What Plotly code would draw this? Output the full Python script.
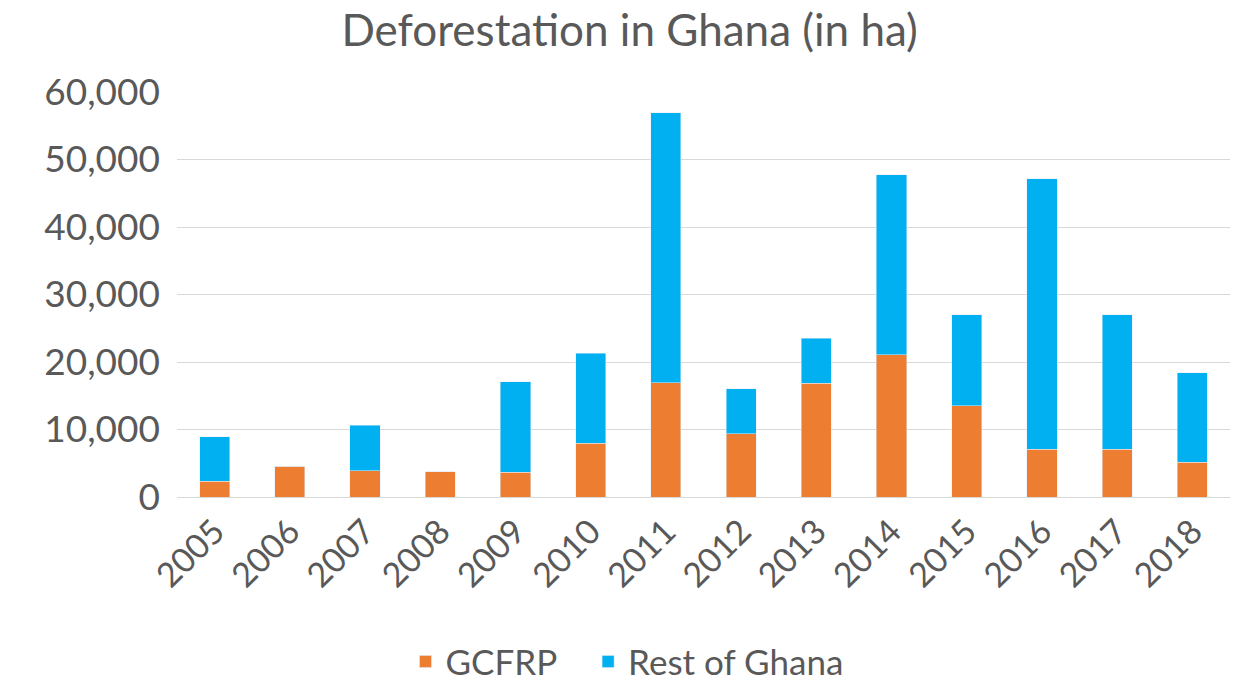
import plotly.graph_objects as go

ORANGE = "#ED7D31"
BLUE = "#00B0F0"
TEXT = "#595959"
GRID = "#D9D9D9"
FONT = "Lato, 'Open Sans', sans-serif"

years = ["2005", "2006", "2007", "2008", "2009", "2010", "2011",
         "2012", "2013", "2014", "2015", "2016", "2017", "2018"]
gcfrp = [2300, 4550, 3900, 3750, 3650, 8000, 16950,
         9400, 16850, 21100, 13500, 7100, 7100, 5150]
rest_of_ghana = [6650, 0, 6700, 0, 13400, 13300, 40000,
                 6650, 6650, 26650, 13500, 40050, 19900, 13250]
y_ticks = [0, 10000, 20000, 30000, 40000, 50000, 60000]

fig = go.Figure()
# trailing non-breaking spaces widen the gap between the two legend entries
fig.add_trace(go.Bar(x=years, y=gcfrp, name="GCFRP\u00a0\u00a0\u00a0", marker_color=ORANGE))
fig.add_trace(go.Bar(x=years, y=rest_of_ghana, name="Rest of Ghana", marker_color=BLUE))

fig.update_layout(
    barmode="stack",
    bargap=0.6,
    width=1237,
    height=683,
    margin=dict(l=177, r=7, t=92, b=186),
    paper_bgcolor="white",
    plot_bgcolor="white",
    font=dict(family=FONT, color=TEXT, size=32),
    title=dict(
        text="Deforestation in Ghana (in ha)",
        x=0.509, xanchor="center",
        y=0.955, yanchor="middle",
        font=dict(size=44, color=TEXT, family=FONT),
    ),
    legend=dict(
        orientation="h",
        x=0.217, xanchor="left",
        yref="container",
        y=0.031, yanchor="middle",
        font=dict(size=35, color=TEXT),
        traceorder="normal",
        itemwidth=30,
    ),
)
fig.update_xaxes(
    tickangle=-45,
    tickfont=dict(size=34, color=TEXT),
    showgrid=False,
    showline=True,
    linecolor=GRID,
    linewidth=1,
    automargin=False,
)
fig.update_yaxes(
    range=[0, 60000],
    tickvals=y_ticks,
    tickformat=",",
    tickfont=dict(size=37, color=TEXT),
    showgrid=True,
    gridcolor=GRID,
    gridwidth=1,
    zeroline=False,
    ticklabelstandoff=16,
    automargin=False,
)

# drop the default page margin so the figure sits at the window's top-left corner
fig.write_html(
    "out.html",
    config={"displayModeBar": False},
    post_script="document.body.style.margin='0';document.body.style.overflow='hidden';",
)
